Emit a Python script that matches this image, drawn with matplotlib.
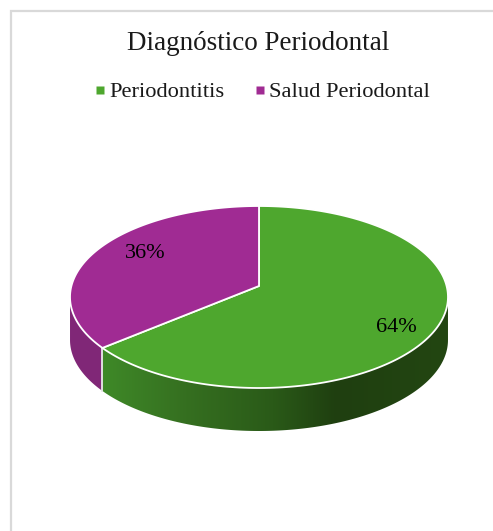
import numpy as np
import matplotlib
matplotlib.use("Agg")
import matplotlib.pyplot as plt
from matplotlib.colors import LinearSegmentedColormap
from matplotlib.lines import Line2D
from matplotlib.patches import Polygon

title = "Diagnóstico Periodontal"
categories = ["Periodontitis", "Salud Periodontal"]
percent = [64, 36]
colors = ["#4ea72e", "#a02b93"]

plt.rcParams["font.family"] = ["Liberation Serif", "DejaVu Serif"]

W, H = 493, 531
fig = plt.figure(figsize=(W / 100, H / 100), dpi=100)
ax = fig.add_axes([0, 0, 1, 1])
ax.set_xlim(0, W)
ax.set_ylim(H, 0)
ax.axis("off")

# pie disc seen in perspective: apex sits above the middle of the ellipse
cx, apex_y = 259, 286
k = 0.1209
a, b = 187.6, 89.67
depth = 43


def project(theta):
    # theta in degrees, clockwise from 12 o'clock
    t = np.radians(theta)
    u, v = np.sin(t), np.cos(t)
    return cx + a * u / (1 + k * v), apex_y - b * v / (1 + k * v)


def arc(t0, t1):
    return np.column_stack(project(np.linspace(t0, t1, 200)))


stop = 360 * percent[0] / sum(percent)

# side wall, only the part facing the viewer
edge_right = np.degrees(np.arccos(-k))
edge_left = 360 - edge_right

top = arc(edge_right, stop)
wall = np.vstack([top, (top + [0, depth])[::-1]])
wall_poly = Polygon(wall, closed=True, fc="none", ec="none")
ax.add_patch(wall_poly)
shade = LinearSegmentedColormap.from_list(
    "shade",
    [(0, "#3f8a28"), (0.25, "#356f20"), (0.5, "#2a5a18"), (0.68, "#1f3f10"), (1, "#234612")],
)
img = ax.imshow(
    np.linspace(0, 1, 256)[None, :],
    cmap=shade,
    extent=[99, 448, 431, 300],
    aspect="auto",
    zorder=1,
)
ax.set_xlim(0, W)
ax.set_ylim(H, 0)
img.set_clip_path(wall_poly)

top = arc(stop, edge_left)
wall = np.vstack([top, (top + [0, depth])[::-1]])
ax.add_patch(Polygon(wall, closed=True, fc="#802777", ec="none", zorder=1))

# line between the two walls
x0, y0 = project(np.array([stop]))
ax.plot([x0[0], x0[0]], [y0[0], y0[0] + depth], color="#e8e8e8", lw=1.3, zorder=2)

# top face
start = 0
for value, color in zip(percent, colors):
    end = start + 360 * value / sum(percent)
    face = np.vstack([[cx, apex_y], arc(start, end)])
    ax.add_patch(Polygon(face, closed=True, fc=color, ec="white", lw=1.3,
                         joinstyle="round", zorder=3))
    start = end

ax.text(396, 327, f"{percent[0]}%", fontsize=16, color="black",
        ha="center", va="center", zorder=4)
ax.text(145, 253, f"{percent[1]}%", fontsize=16, color="black",
        ha="center", va="center", zorder=4)

ax.text(258.5, 43, title, fontsize=19.5, color="#1a1a1a", ha="center", va="center")

handles = [Line2D([], [], ls="none", marker="s", ms=5.6, mfc=c, mec="none") for c in colors]
ax.legend(handles, categories, ncol=2, frameon=False, fontsize=16.2,
          loc="center", bbox_to_anchor=(259.5 / W, 1 - 92 / H),
          handlelength=1.0, handletextpad=-0.095, columnspacing=1.08, labelcolor="#1a1a1a")

# chart frame, only left and top fall inside the crop
ax.plot([11, 11, W], [H, 11, 11], color="#d9d9d9", lw=1.6, solid_joinstyle="miter",
        zorder=0)

fig.savefig("out.png", dpi=100)
